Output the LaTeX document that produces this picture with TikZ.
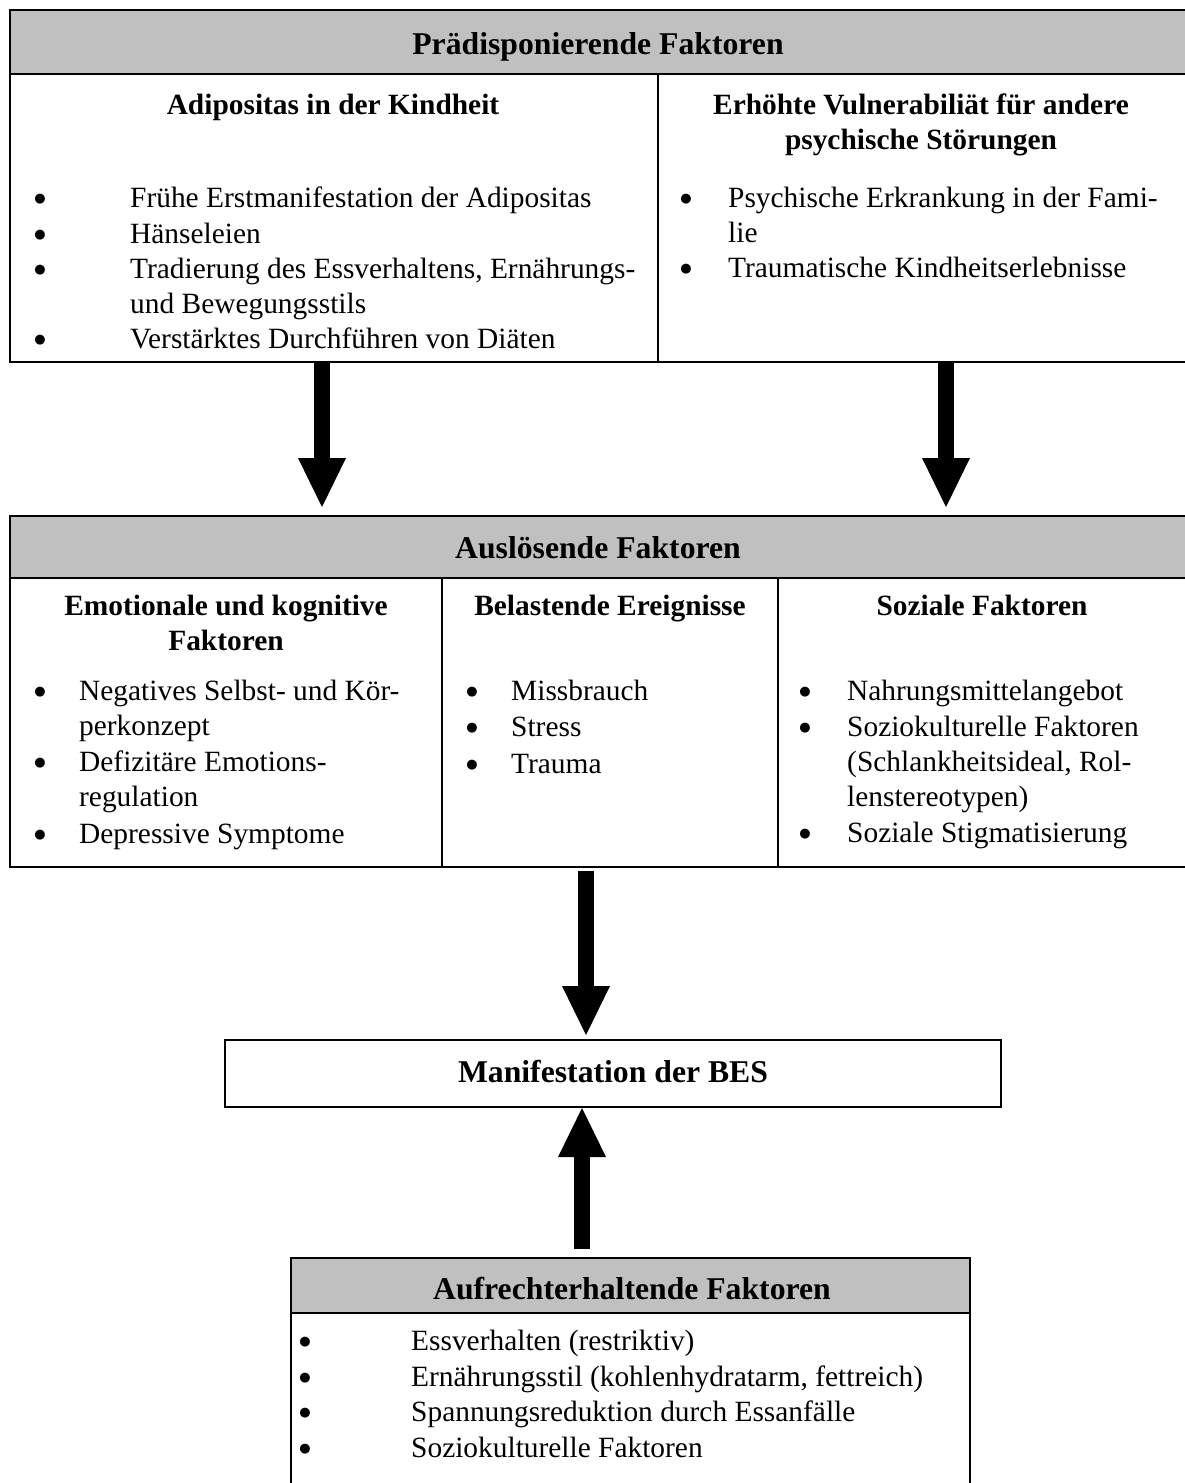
\documentclass[tikz,border=0pt]{standalone}
\usepackage{fontspec}
\setmainfont{Liberation Serif}
\newfontfamily\bulfont{DejaVu Sans}
\usetikzlibrary{arrows.meta}
\definecolor{hdrgray}{RGB}{192,192,192}
\newcommand{\bulsym}{●}
\begin{document}
\begin{tikzpicture}[x=1pt,y=-1pt,
  cellbox/.style={draw=black, line width=1.6pt, inner sep=0pt, outer sep=0pt, anchor=north west},
  hdrbox/.style={cellbox, fill=hdrgray},
  txt/.style={font=\fontsize{29.4}{36}\selectfont, inner sep=0pt, anchor=base west},
  ttl/.style={font=\fontsize{31.7}{36}\selectfont\bfseries, inner sep=0pt, anchor=base},
  sub/.style={font=\fontsize{29.4}{36}\selectfont\bfseries, inner sep=0pt, anchor=base},
  bul/.style={font=\bulfont\fontsize{13}{13}\selectfont, inner sep=0pt, anchor=center, yshift=1pt},
  bigarrow/.style={line width=16pt, -{Triangle[length=49pt 0 0, width=48pt 0 0, line width=0pt]}}
]
\fill[white] (0,0) rectangle (1184,1483);
\useasboundingbox (0,0) rectangle (1184,1483);

% ---------- Praedisponierende Faktoren ----------
\node[hdrbox, minimum width=1180pt, minimum height=64pt] (pHead) at (10,10) {};
\node[cellbox, minimum width=648pt, minimum height=288pt] (pL) at (10,74) {};
\node[cellbox, minimum width=532pt, minimum height=288pt] (pR) at (658,74) {};
\node[ttl] (pT) at (598,54) {Prädisponierende Faktoren};

\node[sub] (pLT) at (333,114) {Adipositas in der Kindheit};
\node[bul] (pb1) at (40,200) {\bulsym};
\node[txt] (pl1) at (130,207) {Frühe Erstmanifestation der Adipositas};
\node[bul] (pb2) at (40,236) {\bulsym};
\node[txt] (pl2) at (130,243) {Hänseleien};
\node[bul] (pb3) at (40,271) {\bulsym};
\node[txt] (pl3) at (130,278) {Tradierung des Essverhaltens, Ernährungs-};
\node[txt] (pl4) at (130,313) {und Bewegungsstils};
\node[bul] (pb5) at (40,341) {\bulsym};
\node[txt] (pl5) at (130,348) {Verstärktes Durchführen von Diäten};

\node[sub] (pRT1) at (921,114) {Erhöhte Vulnerabiliät für andere};
\node[sub] (pRT2) at (921,149) {psychische Störungen};
\node[bul] (pr1b) at (686,200) {\bulsym};
\node[txt] (pr1) at (728,207) {Psychische Erkrankung in der Fami-};
\node[txt] (pr2) at (728,242) {lie};
\node[bul] (pr3b) at (686,270) {\bulsym};
\node[txt] (pr3) at (728,277) {Traumatische Kindheitserlebnisse};

% ---------- Ausloesende Faktoren ----------
\node[hdrbox, minimum width=1180pt, minimum height=62pt] (aHead) at (10,516) {};
\node[cellbox, minimum width=432pt, minimum height=289pt] (aL) at (10,578) {};
\node[cellbox, minimum width=336pt, minimum height=289pt] (aM) at (442,578) {};
\node[cellbox, minimum width=412pt, minimum height=289pt] (aR) at (778,578) {};
\node[ttl] (aT) at (598,558) {Auslösende Faktoren};

\node[sub] (aLT1) at (226,615) {Emotionale und kognitive};
\node[sub] (aLT2) at (226,650) {Faktoren};
\node[bul] (al1b) at (40,693) {\bulsym};
\node[txt] (al1) at (79,700) {Negatives Selbst- und Kör-};
\node[txt] (al2) at (79,735) {perkonzept};
\node[bul] (al3b) at (40,764) {\bulsym};
\node[txt] (al3) at (79,771) {Defizitäre Emotions-};
\node[txt] (al4) at (79,806) {regulation};
\node[bul] (al5b) at (40,836) {\bulsym};
\node[txt] (al5) at (79,843) {Depressive Symptome};

\node[sub] (aMT) at (610,615) {Belastende Ereignisse};
\node[bul] (am1b) at (472,693) {\bulsym};
\node[txt] (am1) at (511,700) {Missbrauch};
\node[bul] (am2b) at (472,729) {\bulsym};
\node[txt] (am2) at (511,736) {Stress};
\node[bul] (am3b) at (472,766) {\bulsym};
\node[txt] (am3) at (511,773) {Trauma};

\node[sub] (aRT) at (982,615) {Soziale Faktoren};
\node[bul] (ar1b) at (805,693) {\bulsym};
\node[txt] (ar1) at (847,700) {Nahrungsmittelangebot};
\node[bul] (ar2b) at (805,729) {\bulsym};
\node[txt] (ar2) at (847,736) {Soziokulturelle Faktoren};
\node[txt] (ar3) at (847,771) {(Schlankheitsideal, Rol-};
\node[txt] (ar4) at (847,806) {lenstereotypen)};
\node[bul] (ar5b) at (805,835) {\bulsym};
\node[txt] (ar5) at (847,842) {Soziale Stigmatisierung};

% ---------- Manifestation ----------
\node[cellbox, minimum width=776pt, minimum height=67pt] (man) at (225,1040) {};
\node[ttl] (manT) at (613,1082) {Manifestation der BES};

% ---------- Aufrechterhaltende Faktoren ----------
\node[hdrbox, minimum width=679pt, minimum height=55pt] (mHead) at (291,1258) {};
\node[cellbox, minimum width=679pt, minimum height=200pt] (mBody) at (291,1313) {};
\node[ttl] (mT) at (632,1299) {Aufrechterhaltende Faktoren};
\node[bul] (m1b) at (305,1343) {\bulsym};
\node[txt] (m1) at (411,1350) {Essverhalten (restriktiv)};
\node[bul] (m2b) at (305,1379) {\bulsym};
\node[txt] (m2) at (411,1386) {Ernährungsstil (kohlenhydratarm, fettreich)};
\node[bul] (m3b) at (305,1414) {\bulsym};
\node[txt] (m3) at (411,1421) {Spannungsreduktion durch Essanfälle};
\node[bul] (m4b) at (305,1450) {\bulsym};
\node[txt] (m4) at (411,1457) {Soziokulturelle Faktoren};

% ---------- Arrows ----------
\coordinate (xL) at (322,0);
\coordinate (xR) at (946,0);
\coordinate (xM) at (586,0);
\coordinate (xU) at (582,0);
\draw[bigarrow, shorten >=9pt] (xL |- pL.south) -- (xL |- aHead.north);
\draw[bigarrow, shorten >=9pt] (xR |- pR.south) -- (xR |- aHead.north);
\draw[bigarrow, shorten <=4pt, shorten >=5pt] (xM |- aM.south) -- (xM |- man.north);
\draw[bigarrow, shorten <=9pt, shorten >=1pt] (xU |- mHead.north) -- (xU |- man.south);
\end{tikzpicture}
\end{document}
